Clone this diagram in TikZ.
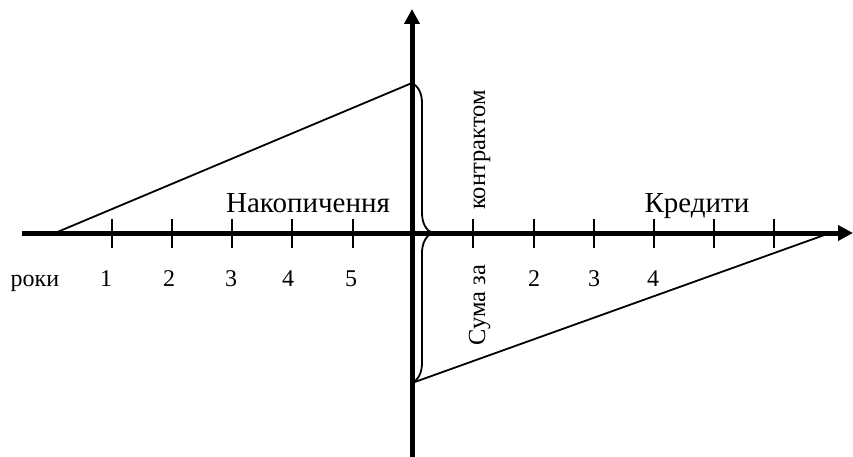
\documentclass[tikz,border=0pt]{standalone}
\usepackage{fontspec}
\setmainfont{Liberation Serif}
\usetikzlibrary{arrows.meta, decorations.pathreplacing}
\tikzstyle{axis} = [line width=5pt, -{Triangle[length=15pt,width=15pt]}]
\tikzstyle{tick} = [line width=1.8pt]
\tikzstyle{slope} = [line width=1.8pt]
\tikzstyle{year} = [font=\fontsize{24}{24}\selectfont, inner sep=0pt, anchor=base]
\tikzstyle{title} = [font=\fontsize{29}{29}\selectfont, inner sep=0pt, anchor=base]
\tikzstyle{sidetext} = [font=\fontsize{24.5}{24.5}\selectfont, inner sep=0pt, rotate=90, anchor=base]
\tikzstyle{brace} = [line width=1.8pt, decorate, decoration={brace, amplitude=20pt}]
\begin{document}
\begin{tikzpicture}[x=1pt, y=-1pt]
			\useasboundingbox (0,0) rectangle (853,457);
			\coordinate (xl) at (22, 233);
			\coordinate (xr) at (853, 233);
			\coordinate (yb) at (412, 460);
			\coordinate (yt) at (412, 9);
			\coordinate (top) at (412, 83);
			\coordinate (bot) at (412, 383);
			\coordinate (start) at (55, 233);
			\coordinate (end) at (830, 233);
			\coordinate (t1) at (112, 233);
			\coordinate (t2) at (172, 233);
			\coordinate (t3) at (232, 233);
			\coordinate (t4) at (292, 233);
			\coordinate (t5) at (353, 233);
			\coordinate (u1) at (473, 233);
			\coordinate (u2) at (534, 233);
			\coordinate (u3) at (594, 233);
			\coordinate (u4) at (654, 233);
			\coordinate (u5) at (714, 233);
			\coordinate (u6) at (774, 233);
			\draw [slope] (start) -- (top);
			\draw [slope] (bot) -- (end);
			\draw [brace] (top) -- (bot);
			\draw [tick] ([yshift=14pt]t1) -- ([yshift=-15pt]t1);
			\draw [tick] ([yshift=14pt]t2) -- ([yshift=-15pt]t2);
			\draw [tick] ([yshift=14pt]t3) -- ([yshift=-15pt]t3);
			\draw [tick] ([yshift=14pt]t4) -- ([yshift=-15pt]t4);
			\draw [tick] ([yshift=14pt]t5) -- ([yshift=-15pt]t5);
			\draw [tick] ([yshift=14pt]u1) -- ([yshift=-15pt]u1);
			\draw [tick] ([yshift=14pt]u2) -- ([yshift=-15pt]u2);
			\draw [tick] ([yshift=14pt]u3) -- ([yshift=-15pt]u3);
			\draw [tick] ([yshift=14pt]u4) -- ([yshift=-15pt]u4);
			\draw [tick] ([yshift=14pt]u5) -- ([yshift=-15pt]u5);
			\draw [tick] ([yshift=14pt]u6) -- ([yshift=-15pt]u6);
			\draw [axis] (xl) -- (xr);
			\draw [axis] (yb) -- (yt);
			\node (years) at (35, 286) [year] {роки};
			\node (y1) at (106, 286) [year] {1};
			\node (y2) at (169, 286) [year] {2};
			\node (y3) at (231, 286) [year] {3};
			\node (y4) at (288, 286) [year] {4};
			\node (y5) at (351, 286) [year] {5};
			\node (k2) at (534, 286) [year] {2};
			\node (k3) at (594, 286) [year] {3};
			\node (k4) at (653, 286) [year] {4};
			\node (savings) at (308, 212) [title] {Накопичення};
			\node (credits) at (697, 212) [title] {Кредити};
			\node (contract) at (485, 150) [sidetext] {контрактом};
			\node (sum) at (485, 305) [sidetext] {Сума за};
		\end{tikzpicture}
\end{document}
